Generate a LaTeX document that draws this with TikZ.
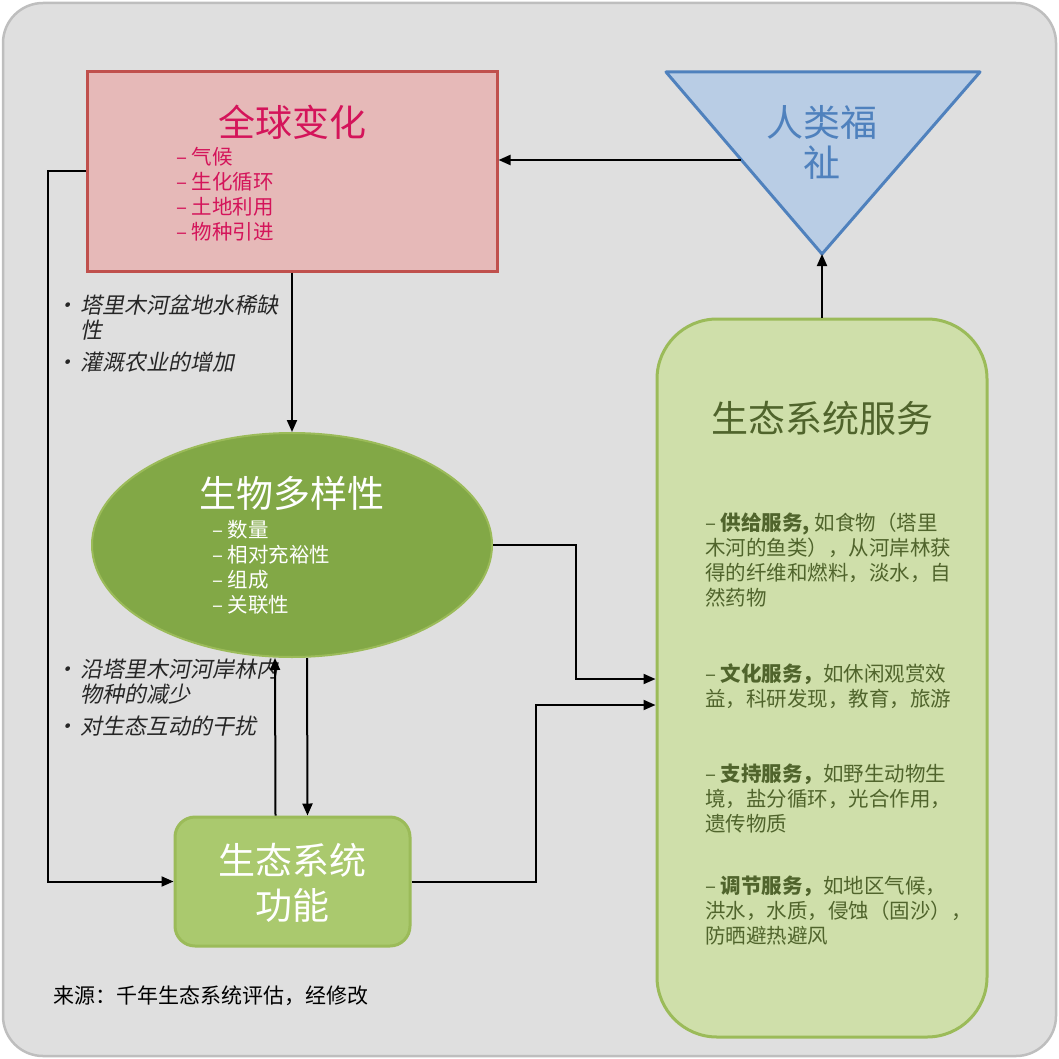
\documentclass[tikz,border=0pt]{standalone}
\usepackage{fontspec}
\setmainfont{Noto Sans CJK SC}
\newfontfamily\slantcjk[FakeSlant=0.2]{Noto Sans CJK SC}
\usetikzlibrary{arrows.meta,shapes.geometric}
\definecolor{pagegray}{HTML}{DFDFDF}
\definecolor{framegray}{HTML}{BEBEBE}
\definecolor{gcfill}{HTML}{E6B9B8}
\definecolor{gcline}{HTML}{C0504D}
\definecolor{gctext}{HTML}{D4145A}
\definecolor{hwfill}{HTML}{B9CDE5}
\definecolor{hwline}{HTML}{4F81BD}
\definecolor{esfill}{HTML}{CFDFAA}
\definecolor{esline}{HTML}{9BBB59}
\definecolor{estext}{HTML}{50642C}
\definecolor{biofill}{HTML}{82A846}
\definecolor{funcfill}{HTML}{AAC96E}
\definecolor{notegray}{HTML}{262626}
\begin{document}
\begin{tikzpicture}[x=1pt,y=-1pt,
    every node/.style={inner sep=0pt},
    big/.style={font=\fontsize{37}{40}\selectfont,align=center},
    small/.style={font=\fontsize{20.5}{25}\selectfont,align=left,anchor=west},
    note/.style={font=\slantcjk\fontsize{22}{25}\selectfont,align=left,
      text=notegray,anchor=west},
    gcbox/.style={draw=gcline,fill=gcfill,line width=3pt,
      minimum width=410pt,minimum height=199pt},
    esbox/.style={draw=esline,fill=esfill,line width=3pt,rounded corners=60pt,
      minimum width=330pt,minimum height=718pt},
    fnbox/.style={draw=esline,fill=funcfill,line width=3pt,rounded corners=20pt,
      minimum width=235pt,minimum height=129pt},
    bioell/.style={ellipse,draw=esline,fill=biofill,line width=2pt,
      minimum width=400pt,minimum height=224pt},
    arr/.style={-{Triangle[length=12pt,width=10pt]},line width=2pt},
    link/.style={line width=2pt}]
  \useasboundingbox (0,0) rectangle (1059,1059);
  \draw[draw=framegray,fill=pagegray,line width=2.5pt,rounded corners=40pt]
    (3,3) rectangle (1056,1056);
  % global change
  \node[gcbox] (global) at (292,171.5) {};
  \node[big,text=gctext] (gctitle) at (292,122) {全球变化};
  \node[small,text=gctext] (gclist) at (176,194.5)
    {– 气候\\– 生化循环\\– 土地利用\\– 物种引进};
  % human well-being
  \coordinate (wtl) at (666,72); \coordinate (wtr) at (980,72);
  \coordinate (wapex) at (822,254); \coordinate (wedge) at (741,160);
  \draw[draw=hwline,fill=hwfill,line width=3pt,line join=round]
    (wtl) -- (wtr) -- (wapex) -- cycle;
  \node[big,text=hwline] (welfare) at (822,142) {人类福\\祉};
  % ecosystem services
  \node[esbox] (services) at (822,678) {};
  \node[big,text=estext] (estitle) at (822,418) {生态系统服务};
  \node[small,text=estext] (supply) at (705,560.5)
    {– \textbf{供给服务,} 如食物（塔里\\木河的鱼类），从河岸林获\\得的纤维和燃料，淡水，自\\然药物};
  \node[small,text=estext] (culture) at (705,686)
    {– \textbf{文化服务，}如休闲观赏效\\益，科研发现，教育，旅游};
  \node[small,text=estext] (support) at (705,798.5)
    {– \textbf{支持服务，}如野生动物生\\境，盐分循环，光合作用，\\遗传物质};
  \node[small,text=estext] (regulate) at (705,910.5)
    {– \textbf{调节服务，}如地区气候，\\洪水，水质，侵蚀（固沙），\\防晒避热避风};
  % biodiversity
  \node[bioell] (bio) at (292,545) {};
  \node[big,text=white] (biotitle) at (292,493) {生物多样性};
  \node[small,text=white] (biolist) at (212,567.5)
    {– 数量\\– 相对充裕性\\– 组成\\– 关联性};
  % ecosystem function
  \node[fnbox] (func) at (292.5,881.5) {};
  \node[big,text=white,font=\fontsize{37}{45}\selectfont] (functext) at (292.5,882.5)
    {生态系统\\功能};
  % drivers
  \node[note] (scarce) at (80,317.5)
    {\llap{•\hspace{3pt}}塔里木河盆地水稀缺\\性};
  \node[note] (irrig) at (80,362) {\llap{•\hspace{3pt}}灌溉农业的增加};
  \node[note] (loss) at (80,681.5)
    {\llap{•\hspace{3pt}}沿塔里木河河岸林内\\物种的减少};
  \node[note] (disturb) at (80,726) {\llap{•\hspace{3pt}}对生态互动的干扰};
  \node[font=\fontsize{21}{25}\selectfont,anchor=west] (source) at (53,996)
    {来源：千年生态系统评估，经修改};
  % connectors
  \draw[arr] (wedge) -- (global.east |- wedge);
  \draw[arr] (services.north) -- (wapex);
  \draw[arr] (global.south) -- (bio.north);
  \draw[arr] ([xshift=15pt]bio.south) -- ([xshift=15pt]func.north);
  \draw[arr] ([xshift=-17pt]func.north) -- ([xshift=-17pt]bio.south);
  \draw[arr] (global.west) -- ++(-38,0) |- (func.west);
  \draw[arr] (bio.east) -- ++(83,0) |- ([yshift=-1pt]services.west);
  \draw[arr] (func.east) -- ++(124,0) |- ([yshift=-27pt]services.west);
\end{tikzpicture}
\end{document}
